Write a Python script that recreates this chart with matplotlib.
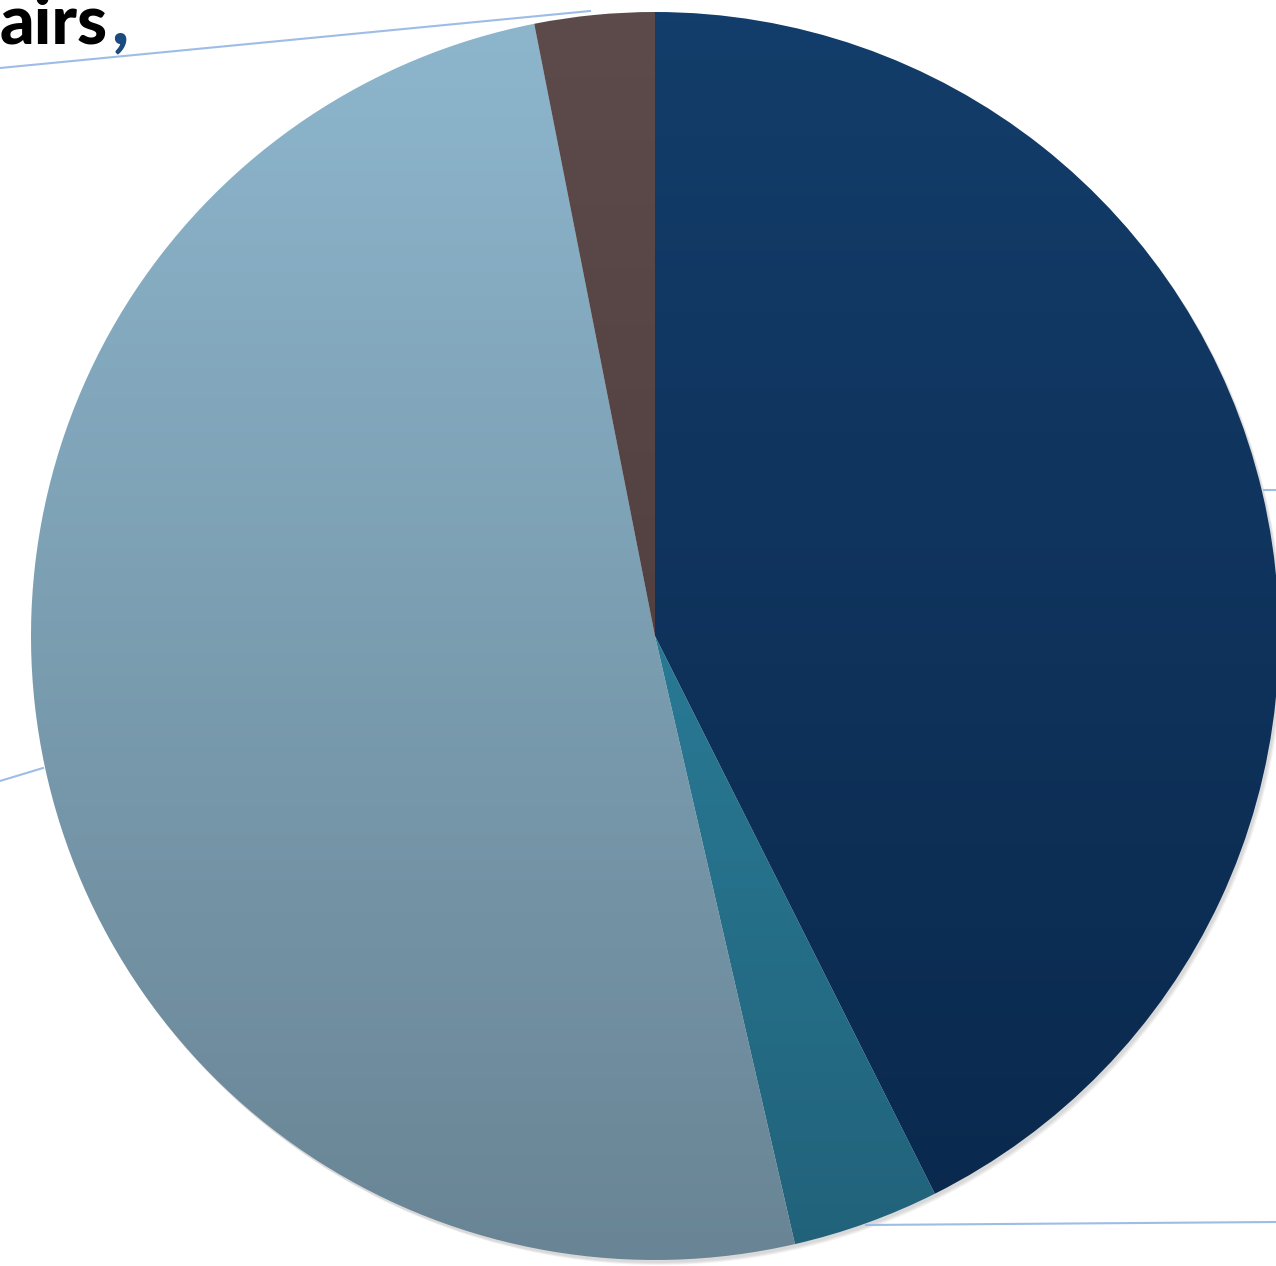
import numpy as np
import matplotlib
matplotlib.use('Agg')
from matplotlib import pyplot as plt
from matplotlib.colors import LinearSegmentedColormap
from matplotlib.patches import Circle

# slice data (clockwise from 12 o'clock)
categories = ['Series A', 'Series B', 'Series C', 'Repairs']
shares = [42.6, 3.8, 50.5, 3.1]
top_colors = ['#133d6a', '#3191b0', '#8db6cd', '#5d4b4b']
bottom_colors = ['#0a284c', '#21627a', '#698595', '#493737']

W, H = 1276, 1266
fig = plt.figure(figsize=(W / 100, H / 100), dpi=100)
ax = fig.add_axes([0, 0, 1, 1])

cx, cy, r = 655, H - 636, 624

# faint drop shadow
for k in range(3):
    ax.add_patch(Circle((cx + 2 + k, cy - 3 - k), r, color='black', alpha=0.05, lw=0, zorder=1))

wedges, _ = ax.pie(shares, center=(cx, cy), radius=r, startangle=90,
                   counterclock=False, frame=True,
                   wedgeprops=dict(linewidth=0))

grad = np.linspace(0, 1, 256).reshape(-1, 1)
for w, c0, c1 in zip(wedges, top_colors, bottom_colors):
    w.set_facecolor('none')
    w.set_zorder(2)
    cmap = LinearSegmentedColormap.from_list('g', [c1, c0])
    im = ax.imshow(grad, cmap=cmap, extent=(cx - r, cx + r, cy - r, cy + r),
                   origin='lower', aspect='auto', zorder=2, interpolation='bilinear')
    im.set_clip_path(w)

ax.set_xlim(0, W)
ax.set_ylim(0, H)
ax.set_aspect('equal')
ax.axis('off')

# leader lines
lc = '#9dbde6'
ax.plot([0, 590], [H - 68, H - 11], color=lc, lw=1.5, zorder=3)
ax.plot([1264, W], [H - 490, H - 490], color=lc, lw=1.5, zorder=3)
ax.plot([0, 43], [H - 781, H - 768], color=lc, lw=1.5, zorder=3)
ax.plot([866, W], [H - 1225, H - 1222], color=lc, lw=1.5, zorder=3)

# partially visible label
ax.text(108, H - 43, 'airs', ha='right', va='baseline', fontsize=49,
        fontweight='black', family='Lato', color='black', zorder=4)
ax.text(111, H - 43, ',', ha='left', va='baseline', fontsize=52,
        fontweight='black', family='Lato', color='#1b4a80', zorder=4)

fig.savefig('out.png', dpi=100)
